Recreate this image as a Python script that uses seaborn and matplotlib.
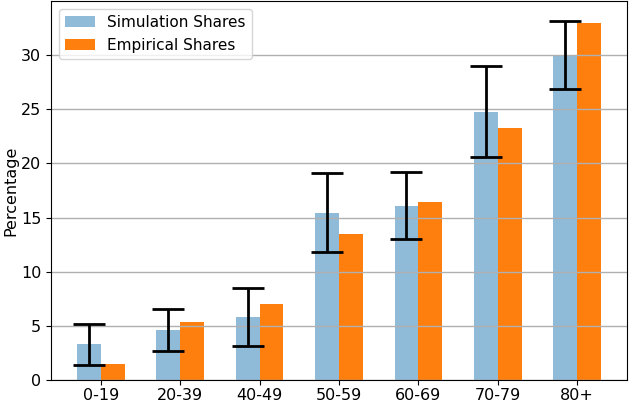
import numpy as np
import pandas as pd
import matplotlib
matplotlib.use('Agg')
import matplotlib.pyplot as plt
import seaborn as sns

age_groups = ['0-19', '20-39', '40-49', '50-59', '60-69', '70-79', '80+']
sim_shares = [3.3, 4.6, 5.8, 15.4, 16.1, 24.8, 30.0]
sim_low = [1.4, 2.7, 3.1, 11.8, 13.0, 20.6, 26.9]
sim_high = [5.2, 6.5, 8.5, 19.1, 19.2, 29.0, 33.2]
emp_shares = [1.5, 5.3, 7.0, 13.5, 16.4, 23.3, 33.0]

df = pd.DataFrame({
    'age': age_groups * 2,
    'share': sim_shares + emp_shares,
    'series': ['Simulation Shares'] * 7 + ['Empirical Shares'] * 7,
})

sim_color = '#8fbbd9'
emp_color = '#ff7f0e'

plt.rcParams['font.size'] = 11.5

fig, ax = plt.subplots(figsize=(6.29, 4.04), dpi=100)
sns.barplot(data=df, x='age', y='share', hue='series', order=age_groups,
            palette=[sim_color, emp_color], width=0.6, saturation=1,
            linewidth=0, errorbar=None, ax=ax)

# error bars on the simulation bars
pos = np.arange(len(age_groups)) - 0.15
sim = np.array(sim_shares)
yerr = [sim - np.array(sim_low), np.array(sim_high) - sim]
ax.errorbar(pos, sim, yerr=yerr, fmt='none', ecolor='black',
            elinewidth=2, capsize=11.5, capthick=2)

ax.set_xlim(-0.63, 6.63)
ax.set_ylim(0, 35)
ax.set_yticks([0, 5, 10, 15, 20, 25, 30])
ax.tick_params(labelsize=11.5)
ax.tick_params(axis='x', pad=2.5)
ax.yaxis.grid(True, color='#b0b0b0', linewidth=1)
ax.set_xlabel('')
ax.set_ylabel('Percentage', fontsize=11.5, labelpad=2)
ax.legend(loc='upper left', fontsize=11)

fig.subplots_adjust(left=0.081, right=0.997, top=0.997, bottom=0.06)
fig.savefig('out.png')
